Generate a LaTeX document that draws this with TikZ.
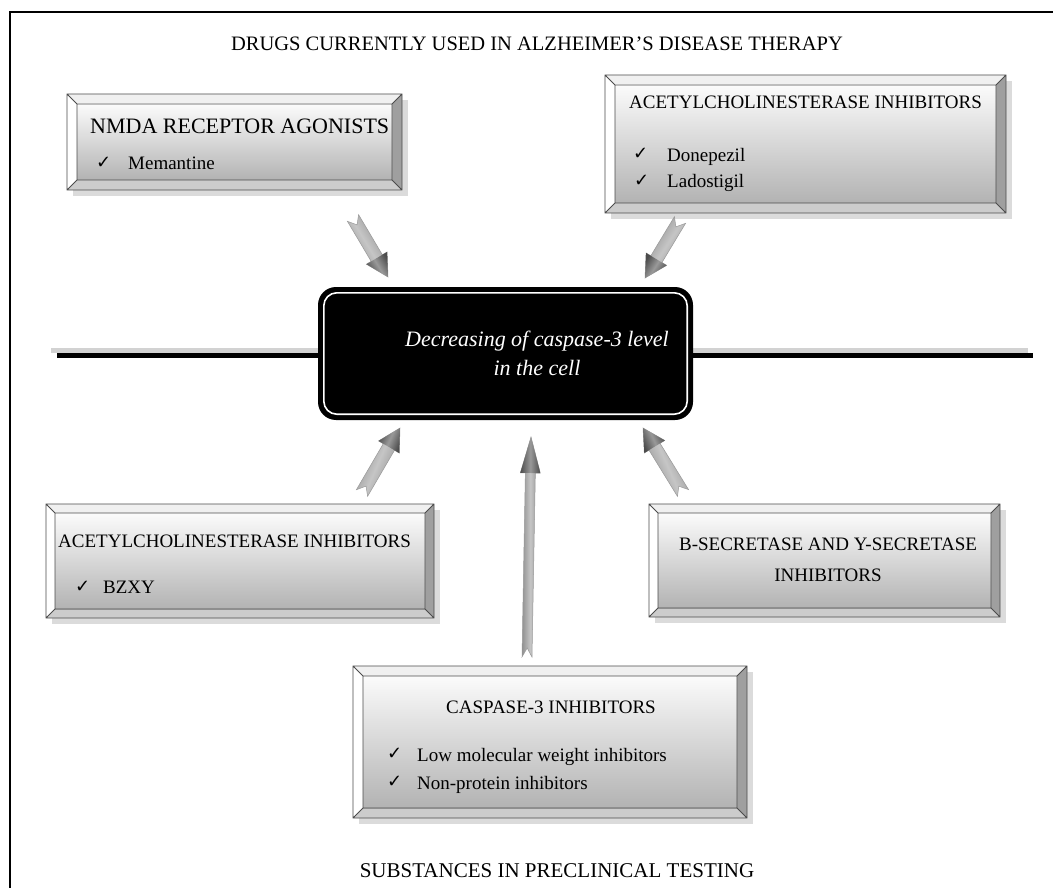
\documentclass[tikz,border=0pt]{standalone}
\usepackage{fontspec}
\setmainfont{Liberation Serif}
\newfontfamily\chkfont{DejaVu Sans}
\usetikzlibrary{calc,fit}
\tikzset{
  bevline/.style={draw=black!70, line width=0.8pt},
  lbl/.style={inner sep=0pt, anchor=base west, font=\fontsize{19}{23}\selectfont},
  ttl/.style={inner sep=0pt, anchor=base, font=\fontsize{19}{23}\selectfont},
  ck/.style={inner sep=0pt, anchor=base west, font=\chkfont\fontsize{18}{20}\selectfont},
  arrowfill/.style={draw=gray!80, line width=0.5pt},
}
\newcommand\bevelbox[6]{%
  \fill[gray!28] ({#2+6},{#3+6}) rectangle ({#4+6},{#5+6});
  \fill[gray!12] (#2,#3) -- (#4,#3) -- ({#4-#6},{#3+#6}) -- ({#2+#6},{#3+#6}) -- cycle;
  \fill[white] (#2,#3) -- ({#2+#6},{#3+#6}) -- ({#2+#6},{#5-#6}) -- (#2,#5) -- cycle;
  \fill[gray!75] (#4,#3) -- (#4,#5) -- ({#4-#6},{#5-#6}) -- ({#4-#6},{#3+#6}) -- cycle;
  \fill[gray!40] (#2,#5) -- ({#2+#6},{#5-#6}) -- ({#4-#6},{#5-#6}) -- (#4,#5) -- cycle;
  \shade[top color=gray!3, bottom color=gray!60] ({#2+#6},{#3+#6}) rectangle ({#4-#6},{#5-#6});
  \draw[bevline] (#2,#3) rectangle (#4,#5) ({#2+#6},{#3+#6}) rectangle ({#4-#6},{#5-#6})
     (#2,#3) -- ({#2+#6},{#3+#6}) (#4,#3) -- ({#4-#6},{#3+#6})
     (#4,#5) -- ({#4-#6},{#5-#6}) (#2,#5) -- ({#2+#6},{#5-#6});
  \node[fit={(#2,#3) (#4,#5)}, inner sep=0pt] (#1) {};
}
% #1 tail, #2 head, #3 shaft half width, #4 head half width, #5 head length, #6 notch, #7 shading angle
\newcommand\garrow[7]{%
  \coordinate (hb) at ($(#2)!#5!(#1)$);
  \coordinate (tn) at ($(#1)!#6!(#2)$);
  \path[arrowfill, top color=gray!95, bottom color=gray!95, middle color=gray!45, shading angle=#7]
    ($(#1)!#3!90:(#2)$) -- ($(hb)!#3!90:(#2)$) -- ($(hb)!#4!90:(#2)$) -- (#2)
    -- ($(hb)!#4!-90:(#2)$) -- ($(hb)!#3!-90:(#2)$) -- ($(#1)!#3!-90:(#2)$) -- (tn) -- cycle;
  \path[top color=black!70, bottom color=black!70, middle color=gray!80, shading angle=#7]
    ($(hb)!#4!90:(#2)$) -- (#2) -- ($(hb)!#4!-90:(#2)$) -- cycle;
}
\begin{document}
\begin{tikzpicture}[x=1pt,y=-1pt]
\useasboundingbox (0,0) rectangle (1053,888);
\fill[white] (0,0) rectangle (1053,888);
% frame
\coordinate (fbl) at (10,888); \coordinate (ftl) at (10,12); \coordinate (ftr) at (1053,12);
\draw[line width=2.6pt] (fbl) -- (ftl) -- (ftr);
% titles
\node[ttl, font=\fontsize{20.5}{25}\selectfont] (top) at (537,50.7) {DRUGS CURRENTLY USED IN ALZHEIMER'S DISEASE THERAPY};
\node[ttl, font=\fontsize{21}{25}\selectfont] (bottom) at (557,877) {SUBSTANCES IN PRECLINICAL TESTING};
% horizontal line
\coordinate (hls) at (51,350.5); \coordinate (hrs) at (1028,350.5);
\coordinate (hl) at (57,355.5); \coordinate (hr) at (1033,355.5);
\draw[gray!35, line width=5pt] (hls) -- (hrs);
\draw[black, line width=5pt] (hl) -- (hr);
% central box
\node (center) [fill=black, rounded corners=18pt, minimum width=375pt, minimum height=133pt, inner sep=0pt] at (505.5,353.5) {};
\draw[white, line width=1.6pt, rounded corners=13pt] ($(center.north west)+(6,6)$) rectangle ($(center.south east)+(-6,-6)$);
\node[ttl, text=white, font=\fontsize{22}{25}\selectfont\itshape] (c1) at (537,346) {Decreasing of caspase-3 level};
\node[ttl, text=white, font=\fontsize{22}{25}\selectfont\itshape] (c2) at (537,375) {in the cell};
% boxes
\bevelbox{nmda}{67}{94}{402}{190}{10}
\node[lbl, font=\fontsize{22}{26}\selectfont] (nmdat) at (90,134) {NMDA RECEPTOR AGONISTS};
\node[ck] (nmdac) at (96,169) {✓};
\node[lbl] (nmda1) at (128,170) {Memantine};

\bevelbox{ache}{605}{75}{1006}{213}{10}
\node[lbl] (achet) at (629,109) {ACETYLCHOLINESTERASE INHIBITORS};
\node[ck] (achec1) at (633,160) {✓};
\node[lbl] (ache1) at (667,162) {Donepezil};
\node[ck] (achec2) at (634,186) {✓};
\node[lbl] (ache2) at (667,188) {Ladostigil};

\bevelbox{achb}{46}{504}{434}{618}{9}
\node[lbl] (achbt) at (58,547) {ACETYLCHOLINESTERASE INHIBITORS};
\node[ck] (achbc) at (75,592) {✓};
\node[lbl] (achb1) at (103,593) {BZXY};

\bevelbox{sec}{649}{504}{1000}{617}{9}
\node[ttl] (sec1) at (828,550) {B-SECRETASE AND Y-SECRETASE};
\node[ttl] (sec2) at (828,581) {INHIBITORS};

\bevelbox{casp}{353}{666}{747}{818}{10}
\node[ttl] (caspt) at (551,713) {CASPASE-3 INHIBITORS};
\node[ck] (caspc1) at (387,759) {✓};
\node[lbl] (casp1) at (417,761) {Low molecular weight inhibitors};
\node[ck] (caspc2) at (387,787) {✓};
\node[lbl] (casp2) at (417,789) {Non-protein inhibitors};
% arrows
\coordinate (a1t) at (353,218); \coordinate (a1h) at (388,277);
\coordinate (a2t) at (680,220); \coordinate (a2h) at (645,278);
\coordinate (a3t) at (362,493); \coordinate (a3h) at (400,428);
\coordinate (a4t) at (683,493); \coordinate (a4h) at (643,428);
\coordinate (a5t) at (527,657); \coordinate (a5h) at (531,437);
\garrow{a1t}{a1h}{6.5pt}{12pt}{22pt}{8pt}{-59}
\garrow{a2t}{a2h}{6.5pt}{12pt}{22pt}{8pt}{57.5}
\garrow{a3t}{a3h}{6.5pt}{12pt}{22pt}{8pt}{66.6}
\garrow{a4t}{a4h}{6.5pt}{12pt}{22pt}{8pt}{-66}
\garrow{a5t}{a5h}{5pt}{10pt}{36pt}{9pt}{90}
\end{tikzpicture}
\end{document}
